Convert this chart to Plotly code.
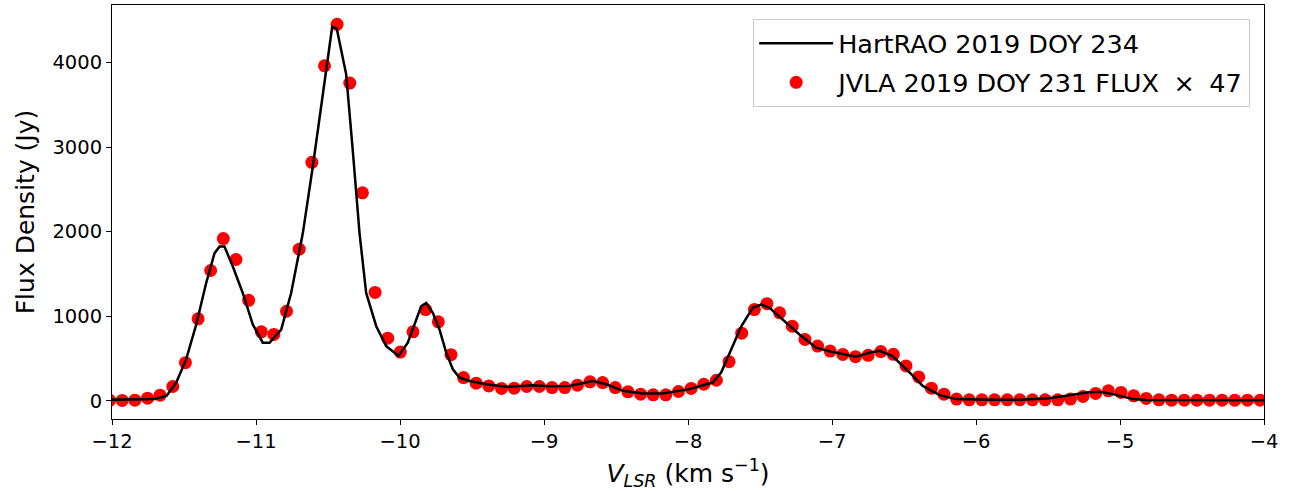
import plotly.graph_objects as go

# JVLA 2019 DOY 231 (scaled x47) channel velocities (km/s) and flux densities (Jy)
jvla_v = [-12.017, -11.929, -11.841, -11.753, -11.666, -11.578, -11.490, -11.402, -11.315, -11.227,
          -11.139, -11.051, -10.963, -10.876, -10.788, -10.700, -10.612, -10.524, -10.437, -10.349,
          -10.261, -10.173, -10.085, -9.998, -9.910, -9.822, -9.734, -9.646, -9.559, -9.471,
          -9.383, -9.295, -9.207, -9.120, -9.032, -8.944, -8.856, -8.768, -8.681, -8.593,
          -8.505, -8.417, -8.329, -8.242, -8.154, -8.066, -7.978, -7.890, -7.803, -7.715,
          -7.627, -7.539, -7.452, -7.364, -7.276, -7.188, -7.100, -7.013, -6.925, -6.837,
          -6.749, -6.661, -6.574, -6.486, -6.398, -6.310, -6.222, -6.135, -6.047, -5.959,
          -5.871, -5.783, -5.696, -5.608, -5.520, -5.432, -5.344, -5.257, -5.169, -5.081,
          -4.993, -4.905, -4.818, -4.730, -4.642, -4.554, -4.466, -4.379, -4.291, -4.203,
          -4.115, -4.027]
jvla_flux = [5, 5, 8, 31, 67, 169, 451, 969, 1541, 1918,
             1671, 1188, 816, 785, 1059, 1793, 2820, 3961, 4451, 3757,
             2459, 1282, 741, 576, 816, 1079, 934, 546, 275, 208,
             176, 146, 149, 169, 169, 157, 157, 185, 224, 216,
             157, 106, 79, 71, 71, 110, 146, 196, 243, 463,
             800, 1079, 1149, 1040, 882, 726, 647, 588, 549, 522,
             538, 582, 550, 412, 282, 149, 79, 20, 12, 12,
             12, 12, 12, 12, 12, 12, 20, 51, 87, 118,
             99, 59, 28, 12, 8, 8, 8, 8, 8, 8,
             8, 8]

# HartRAO 2019 DOY 234 spectrum
hart_v = [-12.0, -11.8, -11.7, -11.62, -11.554, -11.485, -11.415, -11.346, -11.288, -11.253,
          -11.219, -11.161, -11.092, -11.022, -10.953, -10.906, -10.825, -10.756, -10.675, -10.606,
          -10.536, -10.471, -10.439, -10.374, -10.328, -10.281, -10.235, -10.165, -10.096, -10.01,
          -9.946, -9.9, -9.853, -9.818, -9.772, -9.726, -9.679, -9.633, -9.587, -9.517,
          -9.401, -9.26, -9.078, -8.962, -8.823, -8.661, -8.568, -8.453, -8.314, -8.175,
          -7.99, -7.828, -7.77, -7.70, -7.63, -7.55, -7.492, -7.434, -7.342, -7.226,
          -7.11, -6.995, -6.832, -6.74, -6.67, -6.58, -6.465, -6.37, -6.253, -6.14,
          -5.9, -5.7, -5.51, -5.37, -5.23, -5.14, -5.05, -4.91, -4.82, -4.5,
          -4.0]
hart_flux = [12, 12, 20, 60, 216, 490, 902, 1393, 1746, 1824,
             1824, 1588, 1275, 902, 687, 687, 843, 1275, 1980, 2765,
             3628, 4420, 4400, 3863, 2961, 1980, 1275, 882, 647, 530,
             687, 902, 1118, 1157, 1040, 843, 569, 373, 275, 235,
             196, 165, 185, 172, 176, 235, 196, 118, 87, 87,
             138, 216, 334, 608, 882, 1099, 1138, 1099, 961, 785,
             628, 576, 522, 569, 592, 529, 341, 176, 67, 20,
             12, 12, 28, 59, 99, 106, 79, 20, 10, 8,
             8]

x_ticks = [-12, -11, -10, -9, -8, -7, -6, -5, -4]
y_ticks = [0, 1000, 2000, 3000, 4000]

FONT = "DejaVu Sans"

fig = go.Figure()
fig.add_trace(go.Scatter(
    x=jvla_v, y=jvla_flux, mode="markers",
    name="JVLA 2019 DOY 231 FLUX \u2005\u00d7\u2005 47",
    marker=dict(color="red", size=13, line=dict(width=0)),
    legendrank=2, legendgroup="b",
))
fig.add_trace(go.Scatter(
    x=hart_v, y=hart_flux, mode="lines",
    name="HartRAO 2019 DOY 234",
    line=dict(color="black", width=2.5),
    legendrank=1, legendgroup="a",
))

axis_common = dict(
    showline=True, linecolor="black", linewidth=1.1, mirror=True,
    ticks="outside", ticklen=5, tickwidth=1.1, tickcolor="black",
    showgrid=False, zeroline=False,
    tickfont=dict(family=FONT, size=19.5, color="black"),
)

fig.update_layout(
    width=1289, height=491,
    margin=dict(l=112, r=25, t=4, b=71),
    paper_bgcolor="white", plot_bgcolor="white",
    font=dict(family=FONT, color="black"),
    xaxis=dict(range=[-12, -4], tickvals=x_ticks,
               title=dict(text="<i>V</i><sub><i>LSR</i></sub> (km s<sup>\u22121</sup>)",
                          font=dict(family=FONT, size=25), standoff=16),
               **axis_common),
    yaxis=dict(range=[-215, 4680], tickvals=y_ticks,
               title=dict(text="Flux Density (Jy)", font=dict(family=FONT, size=25), standoff=10),
               **axis_common),
    legend=dict(x=0.988, y=0.966, xanchor="right", yanchor="top",
                bgcolor="rgba(255,255,255,0.8)", bordercolor="#cccccc", borderwidth=1,
                font=dict(family=FONT, size=25.5), tracegroupgap=3, itemwidth=74),
    showlegend=True,
)

fig.write_html("out.html")
